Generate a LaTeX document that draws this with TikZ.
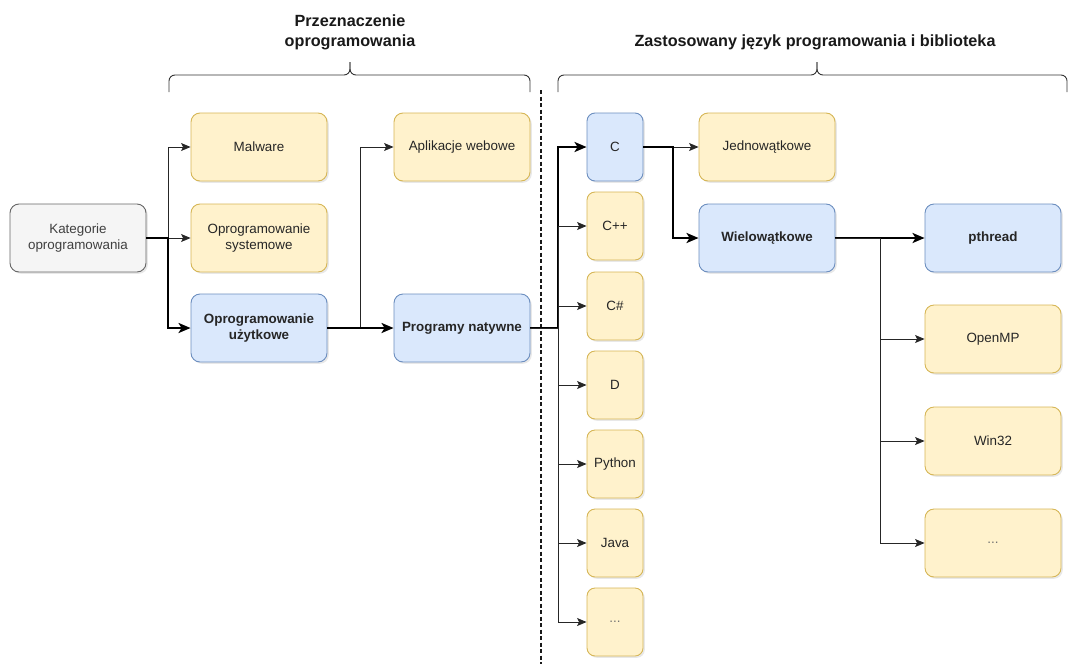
\documentclass[tikz,border=0pt]{standalone}
\usepackage{fontspec}
\setmainfont{Liberation Sans}
\usetikzlibrary{arrows.meta,shadows}

\definecolor{yfill}{HTML}{FFF2CC}
\definecolor{ydraw}{HTML}{D6B656}
\definecolor{bfill}{HTML}{DAE8FC}
\definecolor{bdraw}{HTML}{6C8EBF}
\definecolor{gfill}{HTML}{F5F5F5}
\definecolor{gdraw}{HTML}{666666}
\definecolor{txt}{HTML}{262626}

\tikzset{
  box/.style={rectangle, rounded corners=9pt, minimum height=68pt,
    line width=0.9pt, align=center, text=txt,
    font=\fontsize{13.4}{16}\selectfont,
    drop shadow={shadow xshift=1.8pt, shadow yshift=-1.8pt, opacity=0.18}},
  boldtext/.style={font=\bfseries\fontsize{13.4}{16}\selectfont},
  wide/.style={minimum width=136pt},
  narrow/.style={minimum width=56pt, rounded corners=8pt},
  ybox/.style={box, fill=yfill, draw=ydraw},
  bbox/.style={box, fill=bfill, draw=bdraw},
  gbox/.style={box, fill=gfill, draw=gdraw, text=black!75},
  thinarr/.style={line width=0.9pt, draw=black!85,
    -{Stealth[length=9.5pt,width=8pt,inset=2pt]}},
  thickarr/.style={line width=2.2pt, draw=black,
    -{Stealth[length=12pt,width=10pt,inset=3pt]}},
  bracestyle/.style={line width=0.9pt, draw=black!80, rounded corners=6pt},
  heading/.style={font=\bfseries\fontsize{16.2}{20}\selectfont, align=center, text=black!90},
}

\begin{document}
\begin{tikzpicture}[x=1pt, y=-1pt]
\useasboundingbox (0,0) rectangle (1070,664);

% headings and braces
\node[heading] (h1) at (350,32) {Przeznaczenie\\oprogramowania};
\node[heading] (h2) at (815,42) {Zastosowany język programowania i biblioteka};
\draw[bracestyle] (169,92) -- (169,75) -- (350,75) -- (350,62);
\draw[bracestyle] (530,92) -- (530,75) -- (350,75) -- (350,62);
\draw[bracestyle] (558,92) -- (558,75) -- (817,75) -- (817,62);
\draw[bracestyle] (1067,92) -- (1067,75) -- (817,75) -- (817,62);

% separator
\draw[line width=2pt, dash pattern=on 4pt off 2.5pt, draw=black!90] (541,90) -- (541,664);

% software categories
\node[gbox, wide] (kat) at (78,238) {Kategorie\\oprogramowania};
\node[ybox, wide] (mal) at (259,147) {Malware};
\node[ybox, wide] (sys) at (259,238) {Oprogramowanie\\systemowe};
\node[bbox, wide, boldtext] (uzy) at (259,328) {Oprogramowanie\\użytkowe};
\node[ybox, wide] (web) at (462,147) {Aplikacje webowe};
\node[bbox, wide, boldtext] (nat) at (462,328) {Programy natywne};

% languages
\node[bbox, narrow] (c) at (615,147) {C};
\node[ybox, narrow] (cpp) at (615,226) {C++};
\node[ybox, narrow] (cs) at (615,306) {C\#};
\node[ybox, narrow] (d) at (615,385) {D};
\node[ybox, narrow] (py) at (615,464) {Python};
\node[ybox, narrow] (java) at (615,543) {Java};
\node[ybox, narrow, text=black!55] (etc1) at (615,622) {...};

% threading
\node[ybox, wide] (jed) at (767,147) {Jednowątkowe};
\node[bbox, wide, boldtext] (wie) at (767,238) {Wielowątkowe};

% libraries
\node[bbox, wide, boldtext] (pth) at (993,238) {pthread};
\node[ybox, wide] (omp) at (993,339) {OpenMP};
\node[ybox, wide] (win) at (993,441) {Win32};
\node[ybox, wide, text=black!55] (etc2) at (993,543) {...};

% branch columns
\coordinate (t1) at (168,0);
\coordinate (t2) at (360,0);
\coordinate (t3) at (558,0);
\coordinate (t4) at (673,0);
\coordinate (t5) at (880,0);

% connectors
\draw[thinarr] (kat.east) -- (kat.east -| t1) |- (mal.west);
\draw[thinarr] (kat.east) -- (sys.west);
\draw[thickarr] (kat.east) -- (kat.east -| t1) |- (uzy.west);

\draw[thinarr] (uzy.east) -- (uzy.east -| t2) |- (web.west);
\draw[thickarr] (uzy.east) -- (nat.west);

\draw[thickarr] (nat.east) -- (nat.east -| t3) |- (c.west);
\foreach \n in {cpp,cs,d,py,java,etc1}
  \draw[thinarr] (nat.east) -- (nat.east -| t3) |- (\n.west);

\draw[thinarr] (c.east) -- (jed.west);
\draw[thickarr] (c.east) -- (c.east -| t4) |- (wie.west);

\draw[thickarr] (wie.east) -- (pth.west);
\foreach \n in {omp,win,etc2}
  \draw[thinarr] (wie.east) -- (wie.east -| t5) |- (\n.west);
\end{tikzpicture}
\end{document}
